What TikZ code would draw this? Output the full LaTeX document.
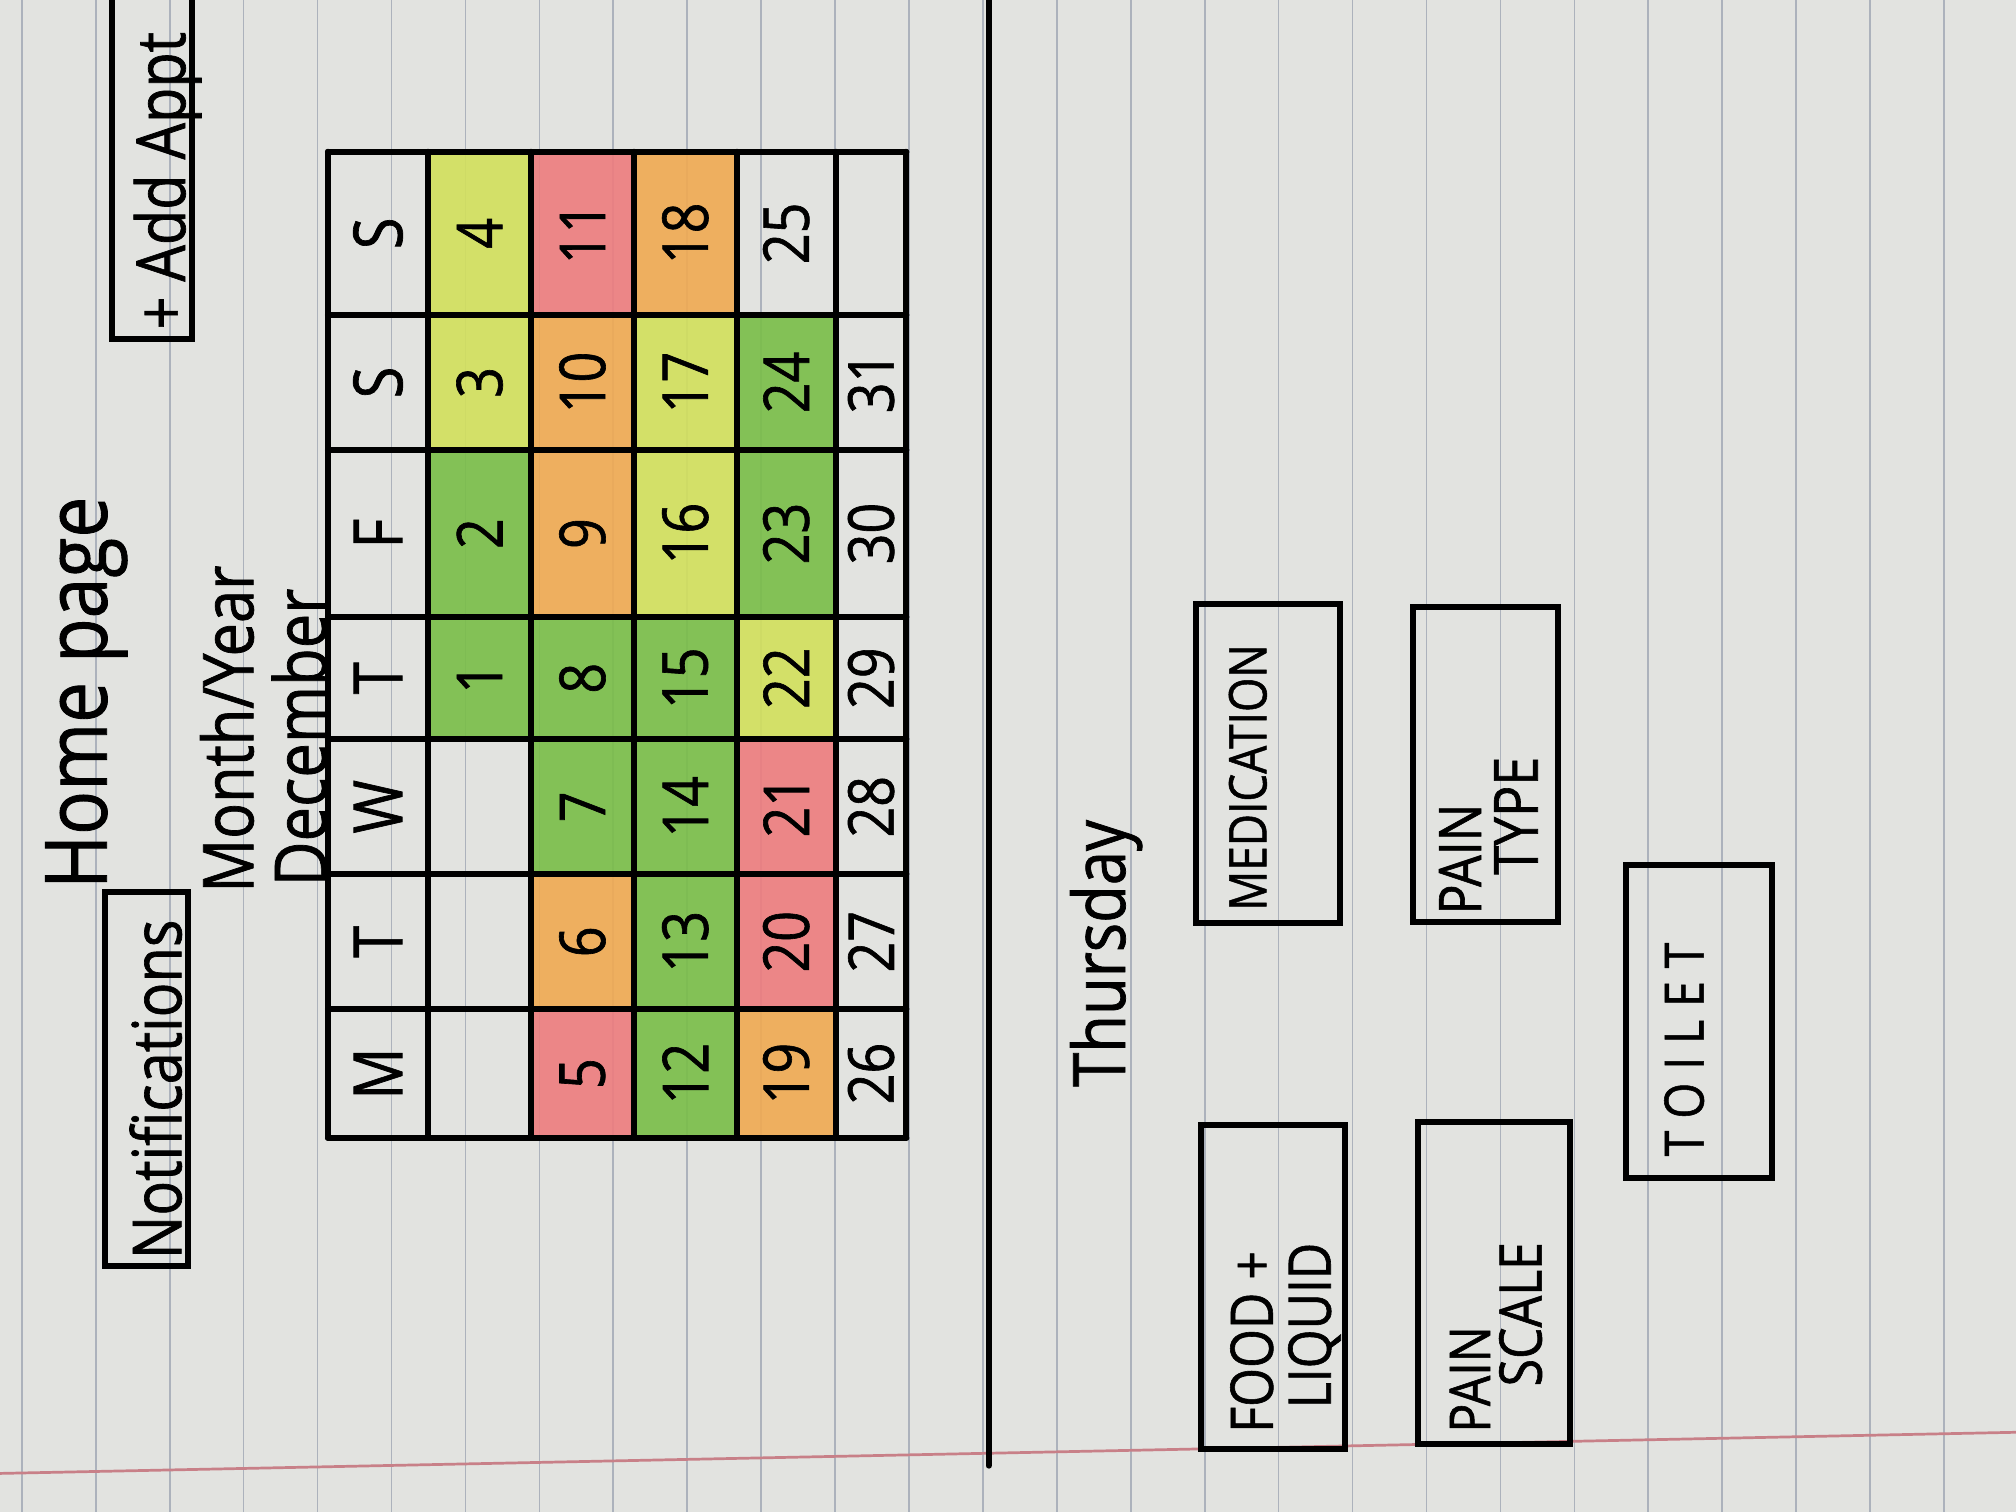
\documentclass[tikz,border=0pt]{standalone}
\usepackage{fontspec}
\newfontfamily\hand[FakeStretch=0.85,FakeBold=1]{Open Sans}
\newfontfamily\handwide[FakeStretch=0.85,FakeBold=1,LetterSpace=24]{Open Sans}
\definecolor{paper}{RGB}{226,227,224}
\definecolor{ruleblue}{RGB}{172,178,188}
\definecolor{margin}{RGB}{200,128,136}
\definecolor{mkgreen}{RGB}{121,190,72}
\definecolor{mkyellow}{RGB}{210,224,92}
\definecolor{mkorange}{RGB}{240,170,82}
\definecolor{mkpink}{RGB}{238,124,126}
\newcommand\pensize[1]{\fontsize{#1}{#1}\selectfont}
\tikzset{
  pen/.style={line width=1.3pt, line cap=round},
  ruled/.style={line width=0.35pt, ruleblue},
  scrawl/.style={rotate=90, anchor=base west, inner sep=0pt},
  dayhead/.style={rotate=90, inner sep=0pt, font=\hand\pensize{15}},
  daynum/.style={rotate=90, inner sep=0pt, font=\hand\pensize{14}}
}
\begin{document}
\begin{tikzpicture}[x=0.01cm, y=-0.01cm]
	% paper
	\useasboundingbox (0,0) rectangle (1568,1176);
	\fill[paper] (0,0) rectangle (1568,1176);
	\foreach \k in {0,...,26}
		\draw[ruled] ({17+57.5*\k},0) -- ++(0,1176);
	\draw[margin, line width=0.6pt] (0,1146) -- (1568,1114);

	% calendar, December starts on a Thursday
	\def\colx{{255,333,413,493,573,650,705}}
	\def\rowy{{118,245,350,480,575,680,785,885}}
	\foreach \d/\c in {1/mkgreen, 2/mkgreen, 3/mkyellow, 4/mkyellow,
		5/mkpink, 6/mkorange, 7/mkgreen, 8/mkgreen, 9/mkorange, 10/mkorange, 11/mkpink,
		12/mkgreen, 13/mkgreen, 14/mkgreen, 15/mkgreen, 16/mkyellow, 17/mkyellow, 18/mkorange,
		19/mkorange, 20/mkpink, 21/mkpink, 22/mkyellow, 23/mkgreen, 24/mkgreen, 25/none,
		26/none, 27/none, 28/none, 29/none, 30/none, 31/none} {
		\pgfmathtruncatemacro\wk{div(\d+2,7)+1}
		\pgfmathtruncatemacro\rw{6-mod(\d+2,7)}
		\pgfmathsetmacro\xa{\colx[\wk]}
		\pgfmathsetmacro\xb{\colx[\wk+1]}
		\pgfmathsetmacro\ya{\rowy[\rw]}
		\pgfmathsetmacro\yb{\rowy[\rw+1]}
		\path[fill=\c, fill opacity=0.9] (\xa,\ya) rectangle (\xb,\yb);
		\node[daynum] (n\d) at ({(\xa+\xb)/2},{(\ya+\yb)/2}) {\d};
	}
	\foreach \lt [count=\i from 0] in {S,S,F,T,W,T,M} {
		\pgfmathsetmacro\ya{\rowy[\i]}
		\pgfmathsetmacro\yb{\rowy[\i+1]}
		\node[dayhead] (day\i) at (294,{(\ya+\yb)/2}) {\lt};
	}
	\foreach \x in {255,333,413,493,573,650,705}
		\draw[pen] (\x,118) -- (\x,885);
	\foreach \y in {118,245,350,480,575,680,785,885}
		\draw[pen] (255,\y) -- (705,\y);

	% home page
	\node[scrawl, font=\hand\pensize{19}] (home) at (83,692) {Home page};
	\node[scrawl, font=\hand\pensize{15.5}] (monthyear) at (197,695) {Month/Year};
	\node[scrawl, font=\hand\pensize{16}] (month) at (254,690) {December};
	\draw[pen] (87,-5) rectangle (149,264)
		(82,694) rectangle (146,985);
	\node[scrawl, font=\hand\pensize{15}] (addappt) at (144,257) {+ Add Appt};
	\node[scrawl, font=\hand\pensize{15}] (notif) at (141,980) {Notifications};
	\draw[pen] (769,0) -- (769,1140);

	% day page
	\node[scrawl, font=\hand\pensize{16}] (thursday) at (875,846) {Thursday};
	\draw[pen]
		(930,470) rectangle (1042,718)
		(1099,472) rectangle (1212,717)
		(1265,673) rectangle (1378,916)
		(934,875) rectangle (1046,1127)
		(1103,873) rectangle (1221,1123);
	\node[scrawl, font=\hand\pensize{11.5}] (medication) at (985,709) {MEDICATION};
	\node[scrawl, font=\hand\pensize{13}] (pain1) at (1152,712) {PAIN};
	\node[scrawl, font=\hand\pensize{13.5}] (type) at (1196,681) {TYPE};
	\node[scrawl, font=\handwide\pensize{12}] (toilet) at (1325,900) {TOILET};
	\node[scrawl, font=\hand\pensize{13}] (food) at (990,1115) {FOOD +};
	\node[scrawl, font=\hand\pensize{13}] (liquid) at (1035,1096) {LIQUID};
	\node[scrawl, font=\hand\pensize{12.5}] (pain2) at (1159,1115) {PAIN};
	\node[scrawl, font=\hand\pensize{13}] (scale) at (1199,1079) {SCALE};
\end{tikzpicture}
\end{document}
